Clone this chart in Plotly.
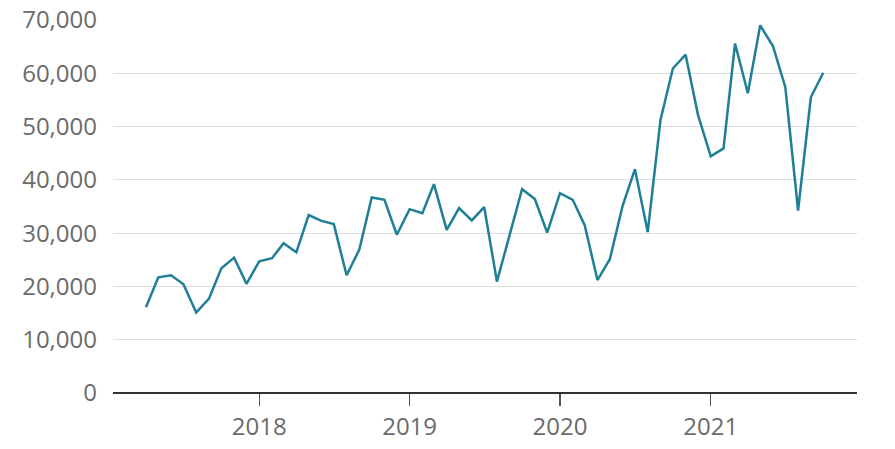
import plotly.graph_objects as go
import pandas as pd

months = pd.date_range("2017-04-01", "2021-10-01", freq="MS")
values = [
    16100, 21700, 22100, 20400, 15100, 17700, 23400, 25400, 20500,   # 2017 Apr-Dec
    24700, 25300, 28100, 26400, 33400, 32300, 31700, 22100, 26900, 36700, 36250, 29700,  # 2018
    34500, 33750, 39200, 30600, 34700, 32400, 34900, 20900, 29500, 38250, 36400, 30100,  # 2019
    37500, 36250, 31500, 21200, 25100, 35100, 42000, 30200, 51250, 60900, 63500, 52200,  # 2020
    44400, 45900, 65600, 56250, 69000, 65100, 57400, 34250, 55500, 60100,  # 2021 Jan-Oct
]

y_ticks = [0, 10000, 20000, 30000, 40000, 50000, 60000, 70000]
x_ticks = ["2018-01-01", "2019-01-01", "2020-01-01", "2021-01-01"]
x_labels = ["2018", "2019", "2020", "2021"]

fig = go.Figure()
fig.add_trace(go.Scatter(
    x=months, y=values, mode="lines",
    line=dict(color="#1f7f96", width=2.5),
    showlegend=False, hoverinfo="skip",
))

font = dict(family="Open Sans, Noto Sans, sans-serif", size=24, color="#6b6b6b")

fig.update_layout(
    width=895, height=449,
    margin=dict(l=113, r=38, t=20, b=56),
    paper_bgcolor="white", plot_bgcolor="white",
    font=font,
    xaxis=dict(
        range=["2017-01-11", "2021-12-22"],
        tickvals=x_ticks, ticktext=x_labels,
        showgrid=False, zeroline=False,
        showline=False, automargin=False,
        ticks="outside", ticklen=12, tickwidth=1.2, tickcolor="#555555",
        tickfont=font,
    ),
    yaxis=dict(
        range=[0, 70000],
        tickvals=y_ticks, ticktext=[f"{v:,}" for v in y_ticks],
        showgrid=True, gridcolor="#dddddd", gridwidth=1,
        zeroline=True, zerolinecolor="#333333", zerolinewidth=2.4,
        showline=False, ticks="", ticklabelstandoff=15, automargin=False,
        tickfont=font,
    ),
)

fig.write_html(
    "out.html",
    config={"displayModeBar": False, "staticPlot": True},
    post_script="document.body.style.margin='0';",
)
